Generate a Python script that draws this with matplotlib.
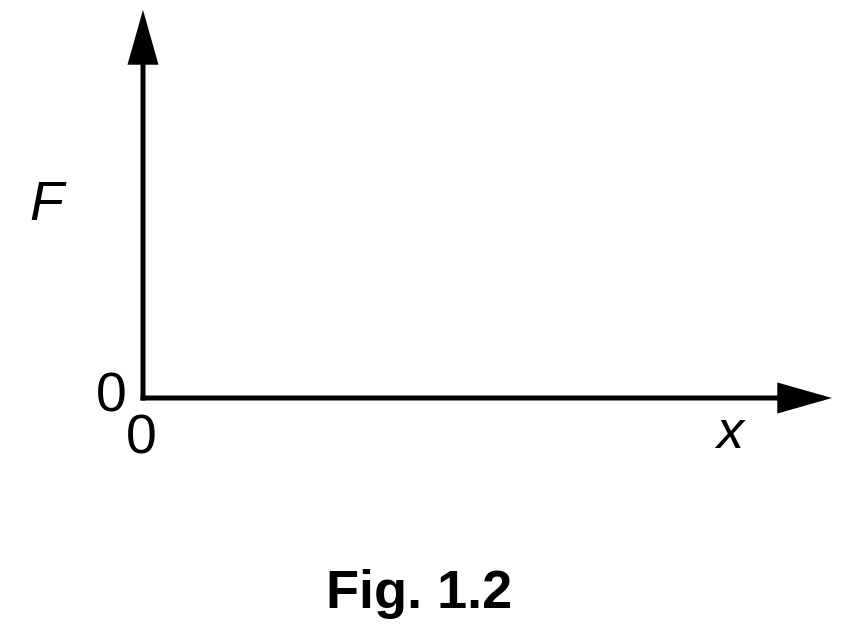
import matplotlib.pyplot as plt

plt.rcParams['font.family'] = ['Liberation Sans', 'DejaVu Sans']

# ==========================
# TEXTOS
# ==========================

y_label = "F"
x_label = "x"
origin_labels = ["0", "0"]
caption = "Fig. 1.2"

# ==========================
# FIGURA
# ==========================

fig = plt.figure(figsize=(8.45, 6.38), dpi=100)
ax = fig.add_axes([0, 0, 1, 1])
ax.set_xlim(0, 845)
ax.set_ylim(638, 0)
ax.axis("off")

# origem em pixels
ox, oy = 143, 398

seta = dict(arrowstyle="-|>,head_length=3.1,head_width=0.88",
            lw=3.6, color="black", shrinkA=0, shrinkB=0,
            joinstyle="miter", capstyle="butt")

# eixo vertical
ax.annotate("", xy=(ox, 10), xytext=(ox, oy + 2.5), arrowprops=seta)

# eixo horizontal
ax.annotate("", xy=(832, oy), xytext=(ox - 2.5, oy), arrowprops=seta)

# ==========================
# LABELS
# ==========================

ax.text(46, 206, y_label, fontsize=40, style="italic", ha="center", va="center")
ax.text(730, 434, x_label, fontsize=39, style="italic", ha="center", va="center")
ax.text(111, 397, origin_labels[0], fontsize=40, ha="center", va="center")
ax.text(141, 440, origin_labels[1], fontsize=40, ha="center", va="center")
ax.text(419, 594, caption, fontsize=39, fontweight="bold", ha="center", va="center")

fig.savefig("out.png", dpi=100)
